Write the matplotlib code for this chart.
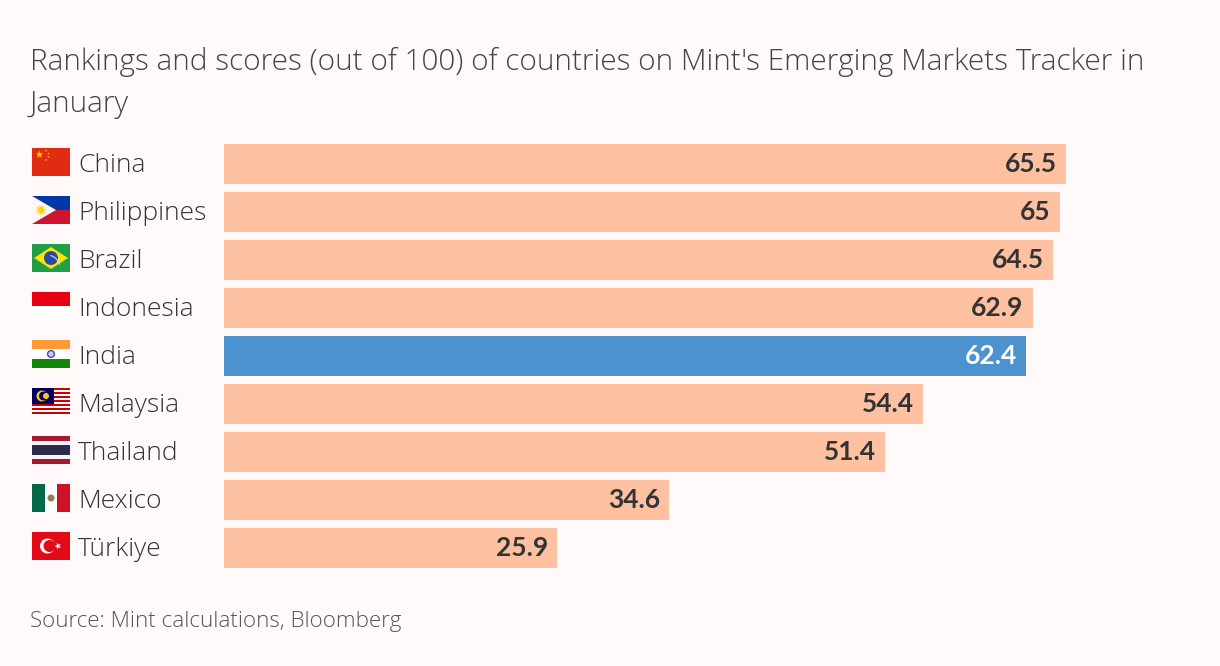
import matplotlib
matplotlib.use('Agg')
import matplotlib.pyplot as plt
import numpy as np
from matplotlib.patches import Circle, Polygon, Rectangle, Wedge

countries = ['China', 'Philippines', 'Brazil', 'Indonesia', 'India',
             'Malaysia', 'Thailand', 'Mexico', 'Türkiye']
scores = [65.5, 65, 64.5, 62.9, 62.4, 54.4, 51.4, 34.6, 25.9]
score_labels = ['65.5', '65', '64.5', '62.9', '62.4', '54.4', '51.4', '34.6', '25.9']
highlight = 'India'

title_lines = ["Rankings and scores (out of 100) of countries on Mint's Emerging Markets Tracker in",
               'January']
source = 'Source: Mint calculations, Bloomberg'

BG = '#fff9f9'
PEACH = '#fdc1a2'
BLUE = '#4b92cf'
DARK = '#333333'
FONT = 'Open Sans'
FLAG_W = 38
FLAG_H = 28


def star(ax, cx, cy, r, color, angle=-90, z=3):
    a = np.radians(angle + np.arange(10) * 36)
    rad = np.where(np.arange(10) % 2 == 0, r, r * 0.4)
    ax.add_patch(Polygon(np.c_[cx + rad * np.cos(a), cy + rad * np.sin(a)],
                         fc=color, ec='none', zorder=z))


def stripes(ax, x, y, fracs, colors):
    top = 0
    for f, c in zip(fracs, colors):
        ax.add_patch(Rectangle((x, y + top * FLAG_H), FLAG_W, f * FLAG_H, fc=c, ec='none'))
        top += f


def flag_china(ax, x, y):
    stripes(ax, x, y, [1], ['#e12b12'])
    star(ax, x + 7.5, y + 6.5, 4, '#ffd400')
    for dx, dy in [(14, 2.5), (16.5, 5.5), (16.5, 9), (14, 12)]:
        star(ax, x + dx, y + dy, 1.3, '#ffd400')


def flag_philippines(ax, x, y):
    stripes(ax, x, y, [.5, .5], ['#0038a8', '#ce1431'])
    ax.add_patch(Polygon([(x, y), (x + 24, y + 14), (x, y + 28)], fc='#fdf6f6', ec='none'))
    ax.add_patch(Circle((x + 9, y + 14), 5, fc='#fde68a', ec='none', zorder=3))
    ax.add_patch(Circle((x + 9, y + 14), 3, fc='#fcd116', ec='none', zorder=3))


def flag_brazil(ax, x, y):
    stripes(ax, x, y, [1], ['#229e45'])
    ax.add_patch(Polygon([(x + 2, y + 14), (x + 19, y + 3), (x + 36, y + 14), (x + 19, y + 25)],
                         fc='#f8e509', ec='none'))
    ax.add_patch(Circle((x + 19, y + 14), 7, fc='#2b49a3', ec='none', zorder=3))
    ax.add_patch(Wedge((x + 15, y + 24), 13.5, 285, 345, width=1, fc='#dfe4f2', ec='none', zorder=4))


def flag_indonesia(ax, x, y):
    stripes(ax, x, y, [.5, .5], ['#e70011', '#ffffff'])


def flag_india(ax, x, y):
    stripes(ax, x, y, [1 / 3, 1 / 3, 1 / 3], ['#ff9933', '#ffffff', '#138808'])
    ax.add_patch(Circle((x + 19, y + 14), 3.4, fc='#c9c9ee', ec='#4a4aa8', lw=1, zorder=3))


def flag_malaysia(ax, x, y):
    colors = ['#cc0001', '#ffffff'] * 7
    stripes(ax, x, y, [1 / 14] * 14, colors)
    ax.add_patch(Rectangle((x, y), 22, 16, fc='#010066', ec='none', zorder=3))
    ax.add_patch(Circle((x + 10, y + 8), 5.5, fc='#ffcc00', ec='none', zorder=4))
    ax.add_patch(Circle((x + 11.5, y + 8), 4.5, fc='#010066', ec='none', zorder=4))
    ax.add_patch(Circle((x + 14, y + 8), 3, fc='#ffcc00', ec='none', zorder=5))


def flag_thailand(ax, x, y):
    stripes(ax, x, y, [1 / 6, 1 / 6, 1 / 3, 1 / 6, 1 / 6],
            ['#a51931', '#f4f5f8', '#2d2a4a', '#f4f5f8', '#a51931'])


def flag_mexico(ax, x, y):
    ax.add_patch(Rectangle((x, y), FLAG_W / 3, FLAG_H, fc='#006847', ec='none'))
    ax.add_patch(Rectangle((x + FLAG_W / 3, y), FLAG_W / 3, FLAG_H, fc='#ffffff', ec='none'))
    ax.add_patch(Rectangle((x + 2 * FLAG_W / 3, y), FLAG_W / 3, FLAG_H, fc='#ce1126', ec='none'))
    ax.add_patch(Circle((x + 19, y + 14), 3.5, fc='#9a7a50', ec='none', zorder=3))


def flag_turkey(ax, x, y):
    stripes(ax, x, y, [1], ['#e30a17'])
    ax.add_patch(Circle((x + 15.5, y + 14), 7.5, fc='#ffffff', ec='none', zorder=3))
    ax.add_patch(Circle((x + 17.5, y + 14), 6, fc='#e30a17', ec='none', zorder=4))
    star(ax, x + 26, y + 14, 3.5, '#ffffff', angle=180, z=5)


flags = [flag_china, flag_philippines, flag_brazil, flag_indonesia, flag_india,
         flag_malaysia, flag_thailand, flag_mexico, flag_turkey]

fig = plt.figure(figsize=(12.2, 6.66), dpi=100, facecolor=BG)

# bars, axes placed so one row is 48 px
ax = fig.add_axes([224 / 1220, 1 - 572 / 666, 996 / 1220, 432 / 666])
ax.set_facecolor('none')
y = np.arange(len(countries))
colors = [BLUE if c == highlight else PEACH for c in countries]
ax.barh(y, scores, height=40 / 48, color=colors)
ax.set_xlim(0, 996 / 12.855)
ax.set_ylim(len(countries) - 0.5, -0.5)
ax.axis('off')

for i, (v, lab, c) in enumerate(zip(scores, score_labels, countries)):
    ax.annotate(lab, (v, i), xytext=(-9, 2), textcoords='offset pixels', ha='right', va='center_baseline',
                fontsize=19, fontweight='bold', family='Lato',
                color='white' if c == highlight else DARK)
    ax.annotate(c, (0, i), xytext=(-146, 2), textcoords='offset pixels', ha='left', va='center_baseline',
                fontsize=19, family=FONT, fontweight='light', color=DARK)

# overlay in pixel units for the flags
ov = fig.add_axes([0, 0, 1, 1])
ov.set_xlim(0, 1220)
ov.set_ylim(666, 0)
ov.axis('off')
ov.patch.set_alpha(0)
for i, draw in enumerate(flags):
    draw(ov, 32, 148 + 48 * i)

fig.text(30 / 1220, 1 - 62 / 666, title_lines[0], fontsize=21.45, family=FONT, fontweight='light',
         color='#444444', va='center')
fig.text(30 / 1220, 1 - 104 / 666, title_lines[1], fontsize=21.45, family=FONT, fontweight='light',
         color='#444444', va='center')
fig.text(30 / 1220, 1 - 622 / 666, source, fontsize=16.1, family=FONT, fontweight='light',
         color='#555555', va='center')

fig.savefig('out.png', dpi=100, facecolor=BG)
